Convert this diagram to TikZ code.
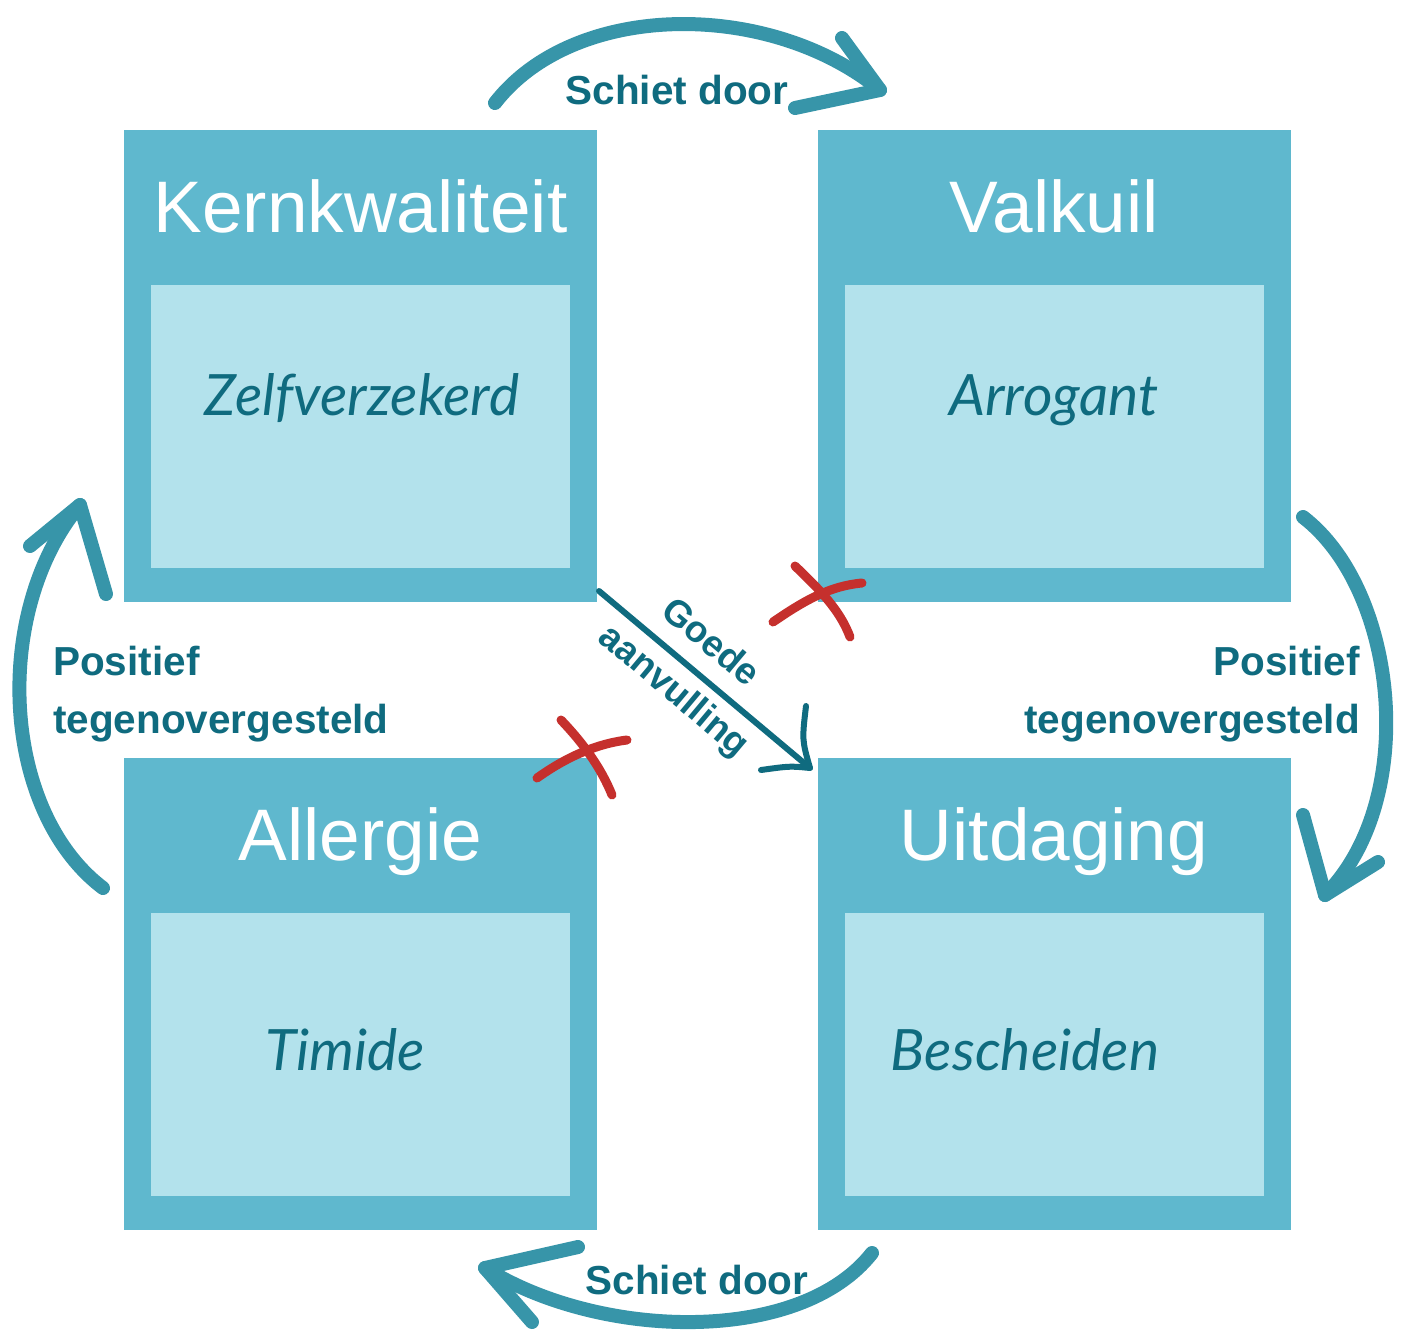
\documentclass[tikz,border=0pt]{standalone}
\usepackage{fontspec}
\setmainfont{Liberation Sans}
\newfontfamily\hand{Lato}
\definecolor{outerc}{HTML}{5FB8CE}
\definecolor{innerc}{HTML}{B3E2EC}
\definecolor{textc}{HTML}{0F6B7F}
\definecolor{arrowc}{HTML}{3795A9}
\definecolor{redc}{HTML}{C5302D}
\tikzset{
  outerbox/.style={fill=outerc, draw=none, inner sep=0pt, minimum width=473pt, minimum height=472pt},
  innerbox/.style={fill=innerc, draw=none, inner sep=0pt, minimum width=419pt, minimum height=283pt},
  head/.style={text=white, anchor=base, inner sep=0pt, font=\fontsize{73}{80}\selectfont},
  handtext/.style={text=textc, anchor=base, inner sep=0pt, font=\hand\itshape\fontsize{57}{62}\selectfont},
  lbl/.style={text=textc, inner sep=0pt, font=\bfseries\fontsize{40.5}{58}\selectfont},
  diag/.style={text=textc, inner sep=0pt, font=\bfseries\fontsize{37}{40}\selectfont, rotate=-40},
  bigarrow/.style={draw=arrowc, line width=14pt, line cap=round, line join=round},
  thinarrow/.style={draw=textc, line width=6pt, line cap=round, line join=round},
  cross/.style={draw=redc, line width=9pt, line cap=round},
}
\begin{document}
\begin{tikzpicture}[x=1pt,y=-1pt]
\useasboundingbox (0,0) rectangle (1405,1338);
\fill[white] (0,0) rectangle (1405,1338);

% boxes
\node[outerbox] (kk) at (360.5,366) {};
\node[innerbox] (kki) at (360.5,426.5) {};
\node[head] (kkh) at (360.5,232) {Kernkwaliteit};
\node[handtext] (kkt) at (362,415) {Zelfverzekerd};

\node[outerbox] (vk) at (1054,366) {};
\node[innerbox] (vki) at (1054,426.5) {};
\node[head] (vkh) at (1054,232) {Valkuil};
\node[handtext] (vkt) at (1054,415) {Arrogant};

\node[outerbox] (al) at (360.5,994) {};
\node[innerbox] (ali) at (360.5,1054) {};
\node[head] (alh) at (360.5,860) {Allergie};
\node[handtext] (alt) at (345,1070) {Timide};

\node[outerbox] (ui) at (1054,994) {};
\node[innerbox] (uii) at (1054,1054) {};
\node[head] (uih) at (1054,860) {Uitdaging};
\node[handtext] (uit) at (1025,1070) {Bescheiden};

% top arrow
\coordinate (t0) at (495,103);
\coordinate (t1) at (880,90);
\draw[bigarrow] (t0) .. controls (575,0) and (770,0) .. (t1);
\draw[bigarrow] (842,38) -- (t1) -- (795,108);
\node[lbl, anchor=base] (sd1) at (677,104) {Schiet door};

% right arrow
\coordinate (r0) at (1303,517);
\coordinate (r1) at (1325,895);
\draw[bigarrow] (r0) .. controls (1398,590) and (1420,800) .. (r1);
\draw[bigarrow] (1303,815) -- (r1) -- (1378,862);
\node[lbl, anchor=base east] (pt2) at (1360,675) {Positief};
\node[lbl, anchor=base east] (pt2b) at (1360,733) {tegenovergesteld};

% left arrow
\coordinate (l0) at (103,888);
\coordinate (l1) at (80,505);
\draw[bigarrow] (l0) .. controls (0,810) and (-8,610) .. (l1);
\draw[bigarrow] (30,546) -- (l1) -- (106,594);
\node[lbl, anchor=base west] (pt1) at (53,675) {Positief};
\node[lbl, anchor=base west] (pt1b) at (53,733) {tegenovergesteld};

% bottom arrow
\coordinate (b0) at (872,1253);
\coordinate (b1) at (485,1268);
\draw[bigarrow] (b0) .. controls (800,1345) and (600,1340) .. (b1);
\draw[bigarrow] (578,1247) -- (b1) -- (532,1322);
\node[lbl, anchor=base] (sd2) at (697,1294) {Schiet door};

% diagonal arrow
\coordinate (d0) at (599,591);
\coordinate (d1) at (810,768);
\draw[thinarrow] (d0) -- (d1);
\draw[thinarrow] (806,706) .. controls (802,740) .. (d1) .. controls (790,766) .. (761,770);
\node[diag] (ga1) at (712,641) {Goede};
\node[diag] (ga2) at (673,692) {aanvulling};

% crosses
\draw[cross] (773,622) .. controls (805,600) and (830,586) .. (862,583);
\draw[cross] (795,566) .. controls (820,590) and (840,610) .. (850,637);
\draw[cross] (537,778) .. controls (565,758) and (595,744) .. (627,740);
\draw[cross] (561,720) .. controls (585,745) and (602,770) .. (612,795);
\end{tikzpicture}
\end{document}
